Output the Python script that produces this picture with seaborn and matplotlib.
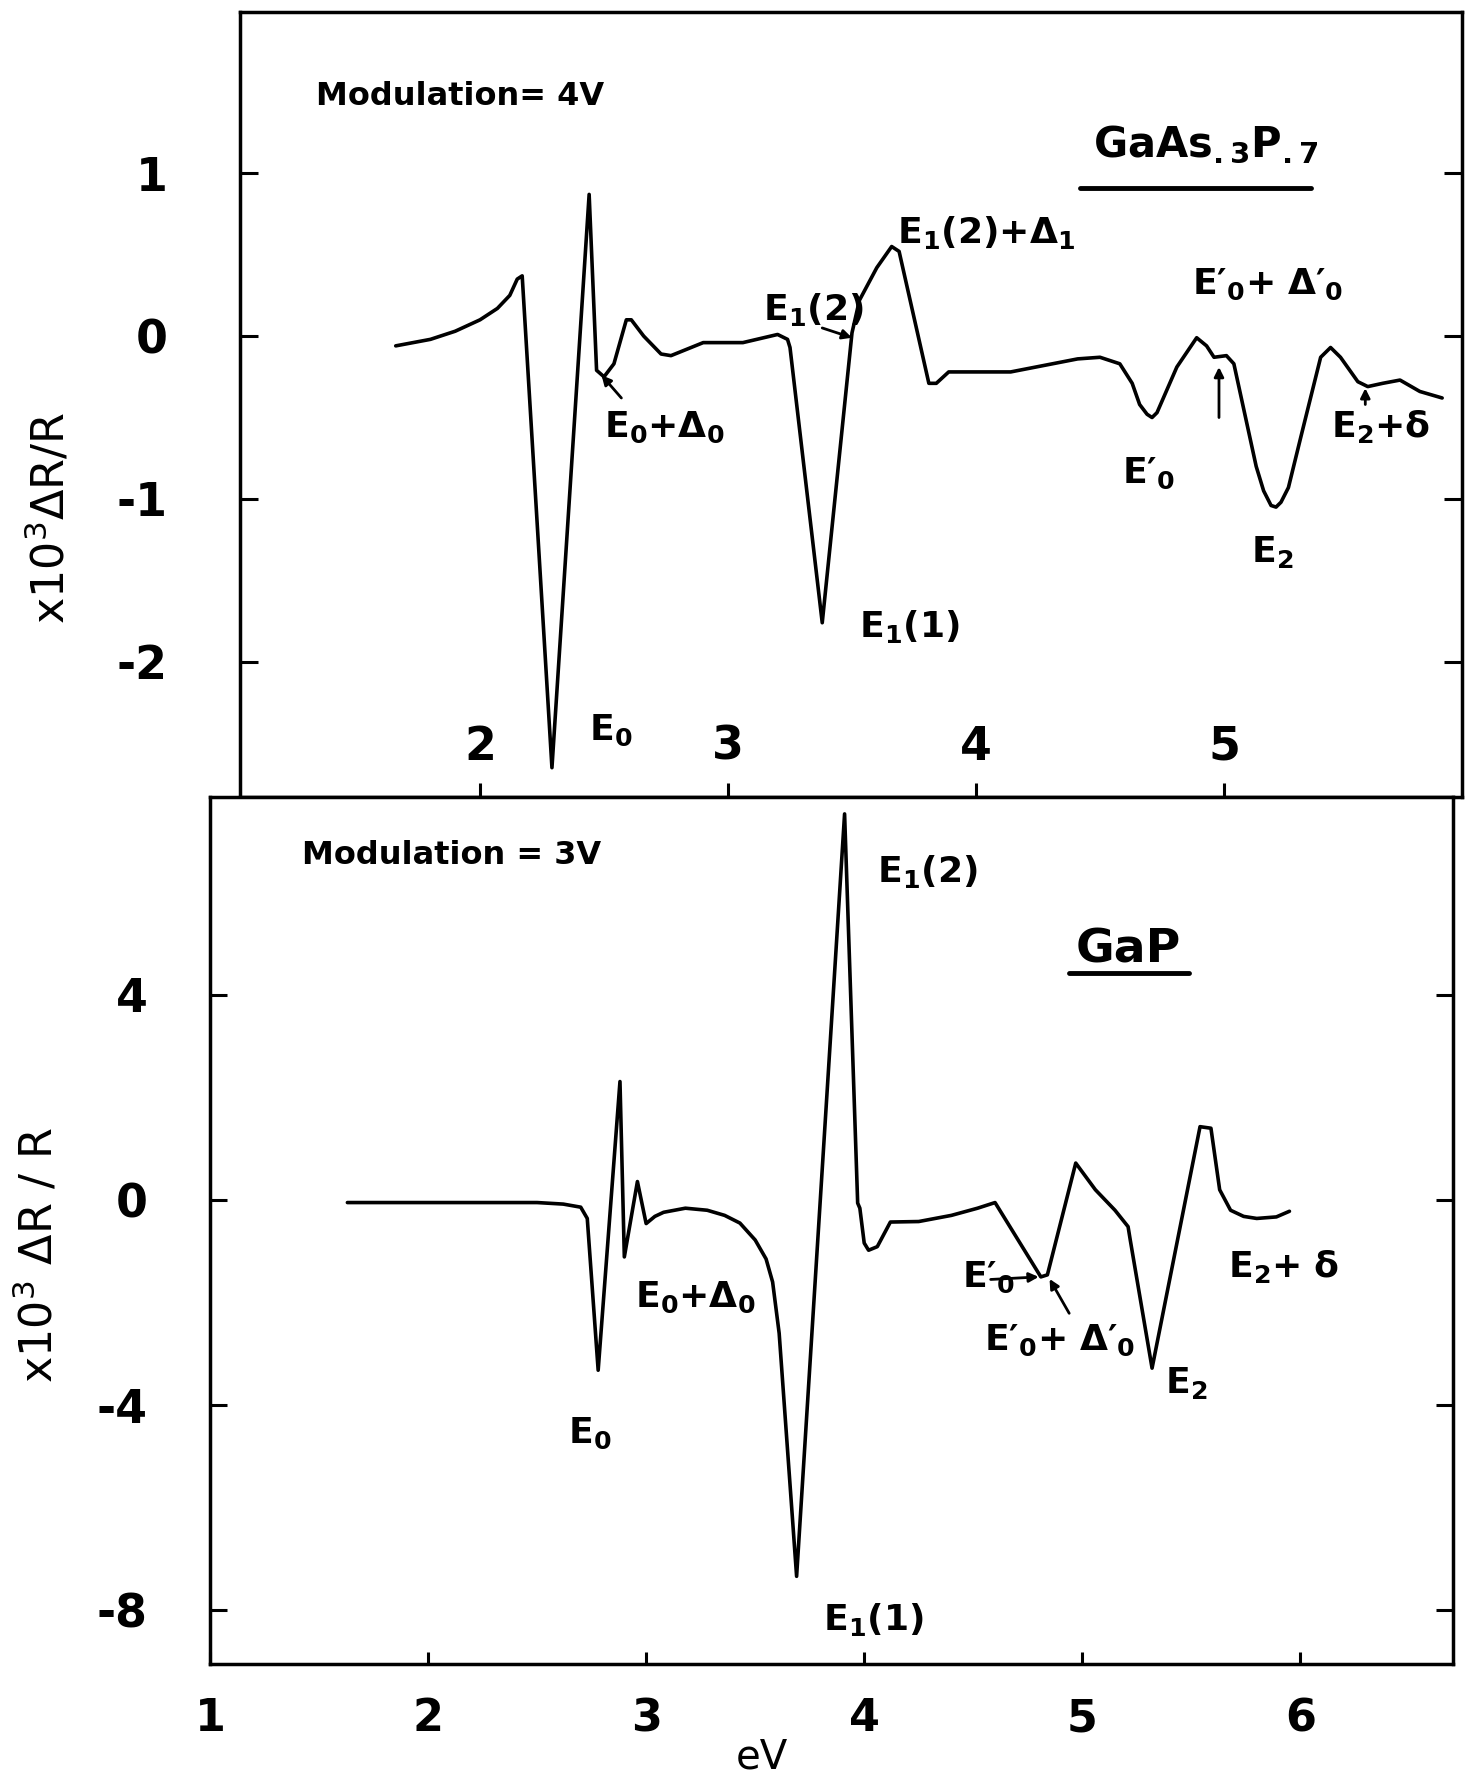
import pandas as pd
import seaborn as sns
import matplotlib.pyplot as plt

# --- data (eV, x10^3 dR/R) ---
gaasp_ev = [1.66, 1.80, 1.90, 2.00, 2.07, 2.12, 2.15, 2.17, 2.29, 2.44, 2.47, 2.50,
            2.54, 2.59, 2.61, 2.66, 2.73, 2.77, 2.90, 3.06, 3.20, 3.24, 3.25, 3.38,
            3.50, 3.53, 3.60, 3.66, 3.69, 3.81, 3.84, 3.89, 3.92, 4.14, 4.41, 4.50,
            4.58, 4.63, 4.66, 4.69, 4.71, 4.73, 4.81, 4.89, 4.93, 4.96, 5.01, 5.04,
            5.13, 5.16, 5.19, 5.21, 5.23, 5.26, 5.31, 5.39, 5.43, 5.47, 5.54, 5.58,
            5.64, 5.71, 5.79, 5.88]
gaasp_dr = [-0.06, -0.02, 0.03, 0.10, 0.17, 0.25, 0.35, 0.37, -2.65, 0.87, -0.21, -0.25,
            -0.17, 0.10, 0.10, 0.00, -0.11, -0.12, -0.04, -0.04, 0.01, -0.02, -0.07, -1.76,
            0.02, 0.22, 0.42, 0.55, 0.52, -0.29, -0.29, -0.22, -0.22, -0.22, -0.14, -0.13,
            -0.17, -0.29, -0.42, -0.48, -0.50, -0.47, -0.19, -0.01, -0.06, -0.13, -0.12, -0.17,
            -0.80, -0.95, -1.04, -1.05, -1.02, -0.93, -0.62, -0.13, -0.07, -0.13, -0.28, -0.31,
            -0.29, -0.27, -0.34, -0.38]

gap_ev = [1.63, 2.50, 2.62, 2.70, 2.73, 2.78, 2.88, 2.90, 2.96, 3.00, 3.04, 3.08,
          3.18, 3.28, 3.36, 3.43, 3.50, 3.55, 3.58, 3.61, 3.69, 3.91, 3.97, 3.98,
          4.00, 4.02, 4.06, 4.12, 4.25, 4.40, 4.52, 4.60, 4.81, 4.84, 4.97, 5.06,
          5.15, 5.21, 5.22, 5.32, 5.54, 5.59, 5.63, 5.68, 5.74, 5.80, 5.89, 5.95]
gap_dr = [-0.05, -0.05, -0.08, -0.14, -0.36, -3.32, 2.31, -1.11, 0.36, -0.46, -0.32, -0.24,
          -0.16, -0.20, -0.30, -0.45, -0.78, -1.15, -1.60, -2.60, -7.34, 7.53, -0.06, -0.16,
          -0.84, -0.98, -0.91, -0.43, -0.42, -0.30, -0.16, -0.05, -1.50, -1.46, 0.72, 0.20,
          -0.20, -0.52, -0.78, -3.28, 1.43, 1.40, 0.20, -0.20, -0.32, -0.36, -0.33, -0.22]

top_xticks = [2, 3, 4, 5]
top_yticks = [1, 0, -1, -2]
top_ylabels = ["1", "0", "-1", "-2"]
bot_xticks = [1, 2, 3, 4, 5, 6]
bot_yticks = [4, 0, -4, -8]
bot_ylabels = ["4", "0", "-4", "-8"]

# transition labels: (text, x, y baseline)
top_labels = [
    (r"$\mathregular{E_0{+}\Delta_0}$", 2.50, -0.62),
    (r"$\mathregular{E_0}$", 2.44, -2.48),
    (r"$\mathregular{E_1(2)}$", 3.14, 0.10),
    (r"$\mathregular{E_1(2){+}\Delta_1}$", 3.68, 0.57),
    (r"$\mathregular{E_1(1)}$", 3.53, -1.85),
    (r"$\mathregular{E′_0{+}\ \Delta′_0}$", 4.87, 0.26),
    (r"$\mathregular{E′_0}$", 4.59, -0.90),
    (r"$\mathregular{E_2}$", 5.11, -1.39),
    (r"$\mathregular{E_2{+}\delta}$", 5.43, -0.62),
]
top_arrows = [((2.57, -0.38), (2.49, -0.24)),
              ((3.38, 0.05), (3.50, -0.01)),
              ((4.98, -0.50), (4.98, -0.19)),
              ((5.57, -0.42), (5.57, -0.32))]

bot_labels = [
    (r"$\mathregular{E_1(2)}$", 4.06, 6.20),
    (r"$\mathregular{E_0{+}\Delta_0}$", 2.95, -2.09),
    (r"$\mathregular{E_0}$", 2.64, -4.74),
    (r"$\mathregular{E_1(1)}$", 3.81, -8.39),
    (r"$\mathregular{E′_0}$", 4.45, -1.70),
    (r"$\mathregular{E′_0{+}\ \Delta′_0}$", 4.55, -2.93),
    (r"$\mathregular{E_2}$", 5.38, -3.77),
    (r"$\mathregular{E_2{+}\ \delta}$", 5.67, -1.50),
]
bot_arrows = [((4.58, -1.55), (4.80, -1.50)),
              ((4.94, -2.21), (4.85, -1.54))]

sns.set_style("ticks")
plt.rcParams["font.family"] = ["DejaVu Sans"]
plt.rcParams["mathtext.fontset"] = "dejavusans"
plt.rcParams["axes.unicode_minus"] = False
plt.rcParams["text.color"] = "black"
plt.rcParams["axes.labelcolor"] = "black"
plt.rcParams["xtick.color"] = "black"
plt.rcParams["ytick.color"] = "black"

W, H = 1483, 1785
fig = plt.figure(figsize=(W / 100, H / 100), dpi=100)
ax1 = fig.add_axes([240 / W, 1 - 797 / H, (1462 - 240) / W, (797 - 12) / H])
ax2 = fig.add_axes([210 / W, 1 - 1664 / H, (1453 - 210) / W, (1664 - 797) / H])

df_top = pd.DataFrame({"eV": gaasp_ev, "dR": gaasp_dr})
df_bot = pd.DataFrame({"eV": gap_ev, "dR": gap_dr})
sns.lineplot(data=df_top, x="eV", y="dR", ax=ax1, color="black", lw=2.6,
             sort=False, estimator=None)
sns.lineplot(data=df_bot, x="eV", y="dR", ax=ax2, color="black", lw=2.6,
             sort=False, estimator=None)

ax1.set_xlim(1.032, 5.96)
ax1.set_ylim(-2.83, 1.99)
ax2.set_xlim(1.0, 6.70)
ax2.set_ylim(-9.05, 7.86)

for ax in (ax1, ax2):
    ax.set_xlabel("")
    ax.set_ylabel("")
    for s in ax.spines.values():
        s.set_linewidth(2.5)
        s.set_color("black")
    ax.tick_params(direction="in", right=True, top=False, width=2.2, colors="black")

ax1.set_xticks(top_xticks, labels=[str(t) for t in top_xticks], fontsize=33, fontweight="bold")
ax1.set_yticks(top_yticks, labels=top_ylabels, fontsize=33, fontweight="bold")
ax1.tick_params(axis="x", length=10, pad=-52)
ax1.tick_params(axis="y", length=13, pad=52)

ax2.set_xticks(bot_xticks, labels=[str(t) for t in bot_xticks], fontsize=32, fontweight="bold")
ax2.set_yticks(bot_yticks, labels=bot_ylabels, fontsize=33, fontweight="bold")
ax2.tick_params(axis="x", length=9, pad=24)
ax2.tick_params(axis="y", length=12, pad=45)

for txt, x, y in top_labels:
    ax1.text(x, y, txt, fontsize=26, fontweight="bold", va="baseline", ha="left")
for txt, x, y in bot_labels:
    ax2.text(x, y, txt, fontsize=26, fontweight="bold", va="baseline", ha="left")

arrow_style = dict(arrowstyle="-|>", color="black", lw=2, mutation_scale=14,
                   shrinkA=0, shrinkB=0)
for tail, head in top_arrows:
    ax1.annotate("", xy=head, xytext=tail, arrowprops=arrow_style)
for tail, head in bot_arrows:
    ax2.annotate("", xy=head, xytext=tail, arrowprops=arrow_style)

# sample names and modulation notes
ax1.text(1.34, 1.47, "Modulation= 4V", fontsize=23, fontweight="bold", va="center")
ax2.text(1.42, 6.71, "Modulation = 3V", fontsize=23, fontweight="bold", va="center")
ax1.text(4.47, 1.10, r"$\mathregular{GaAs_{.3}P_{.7}}$", fontsize=30, fontweight="bold",
         va="baseline")
ax1.plot([4.42, 5.35], [0.91, 0.91], color="black", lw=3.5, solid_capstyle="round")
ax2.text(4.97, 4.63, "GaP", fontsize=34, fontweight="bold", va="baseline")
ax2.plot([4.94, 5.49], [4.43, 4.43], color="black", lw=3.5, solid_capstyle="round")

fig.text(50 / W, 1 - 518 / H, r"$\mathregular{x10^3\Delta R/R}$", rotation=90,
         fontsize=32, ha="center", va="center")
fig.text(38 / W, 1 - 1255 / H, r"$\mathregular{x10^3\ \Delta R\ /\ R}$", rotation=90,
         fontsize=32, ha="center", va="center")
fig.text(762 / W, 1 - 1768 / H, "eV", fontsize=29, ha="center", va="baseline")

fig.savefig("out.png", dpi=100, facecolor="white")
